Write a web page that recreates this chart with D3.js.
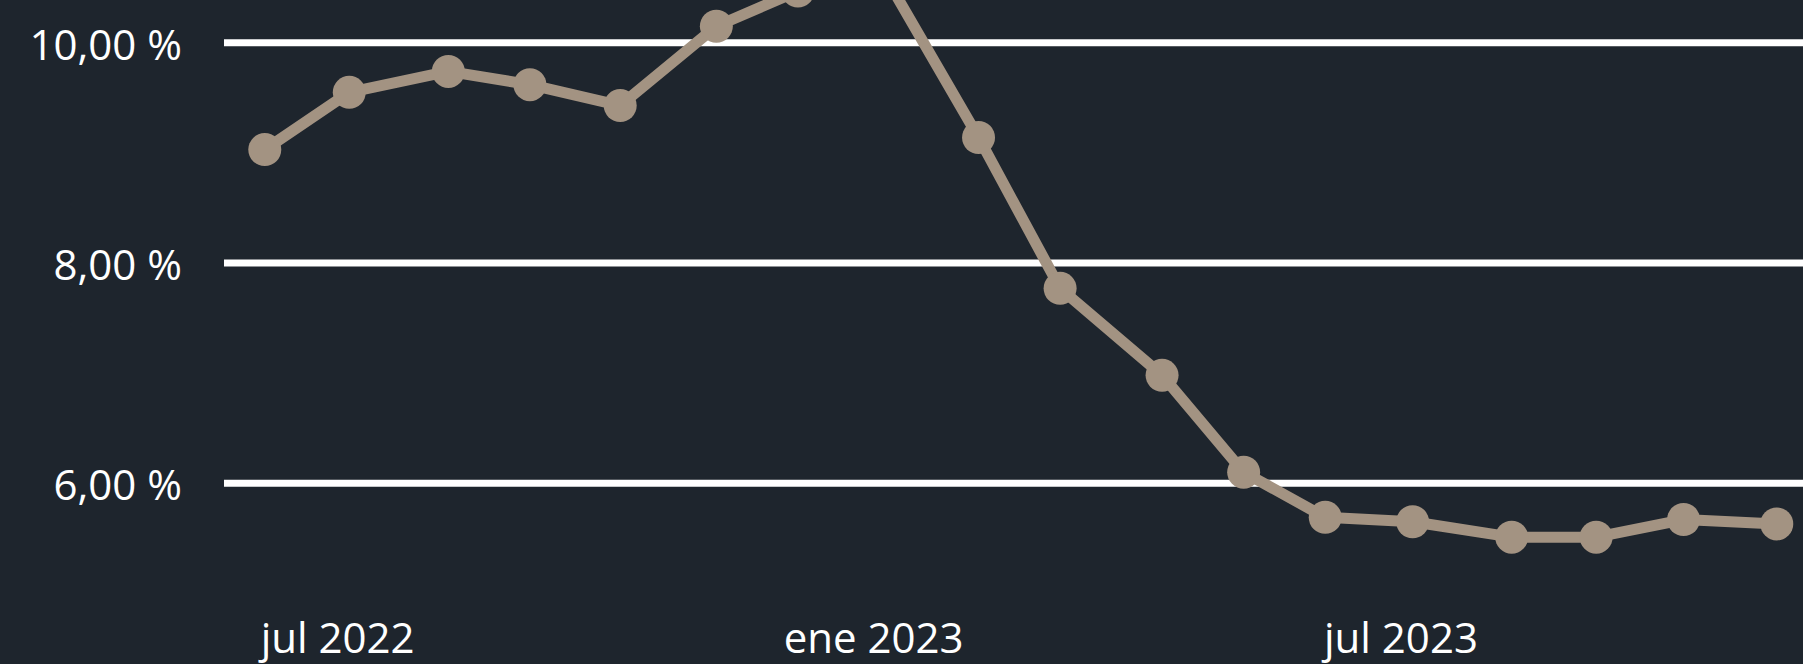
<!DOCTYPE html>
<html lang="es">
  <head>
    <meta charset="utf-8">
    <title>Serie mensual</title>
    <style type="text/css">
html, body {
  margin: 0;
  padding: 0;
  background: #1e252d;
  overflow: hidden;
}
text {
  font-family: "Open Sans", sans-serif;
  fill: #ffffff;
}
    </style>
  </head>

  <body>
    <div id="chart"></div>

    <script src="https://cdn.jsdelivr.net/npm/d3@7"></script>
    <script>
      // fechas y valores
      var fechas = ["2022-06-06", "2022-07-05", "2022-08-08", "2022-09-05", "2022-10-06", "2022-11-08",
                    "2022-12-06", "2023-01-05", "2023-02-06", "2023-03-06", "2023-04-10", "2023-05-08",
                    "2023-06-05", "2023-07-05", "2023-08-08", "2023-09-06", "2023-10-06", "2023-11-07"];
      var valores = [9.03, 9.55, 9.74, 9.62, 9.43, 10.15,
                     10.47, 10.60, 9.14, 7.77, 6.98, 6.10,
                     5.69, 5.65, 5.51, 5.51, 5.67, 5.63];
      var ticksY = [6, 8, 10];
      var ticksX = ["2022-07-01", "2023-01-01", "2023-07-01"];
      var etiquetasX = ["jul 2022", "ene 2023", "jul 2023"];
      var dominioX = ["2022-05-23", "2023-11-16"];

      var parse = d3.timeParse("%Y-%m-%d");

      var width = 1803, height = 664;
      var plot = {left: 224, right: 1803};

      var svg = d3.select("#chart").append("svg")
          .attr("width", width)
          .attr("height", height);

      svg.append("rect")
          .attr("width", width)
          .attr("height", height)
          .attr("fill", "#1e252d");

      var x = d3.scaleTime()
          .domain(dominioX.map(parse))
          .range([plot.left, plot.right]);

      var y = d3.scaleLinear()
          .domain([6, 10])
          .range([483.2, 42.8]);

      var data = fechas.map(function(f, i) {
        return {fecha: parse(f), valor: valores[i]};
      });

      // líneas de cuadrícula
      svg.append("g").selectAll("line")
        .data(ticksY)
        .enter().append("line")
          .attr("x1", plot.left)
          .attr("x2", plot.right)
          .attr("y1", function(d) { return y(d); })
          .attr("y2", function(d) { return y(d); })
          .attr("stroke", "#ffffff")
          .attr("stroke-width", 7);

      // etiquetas eje Y
      var fmt = function(d) { return d3.format(".2f")(d).replace(".", ",") + " %"; };
      svg.append("g").selectAll("text")
        .data(ticksY)
        .enter().append("text")
          .attr("x", 182)
          .attr("y", function(d) { return y(d); })
          .attr("dy", 17)
          .attr("text-anchor", "end")
          .style("font-size", "42px")
          .text(fmt);

      // etiquetas eje X
      svg.append("g").selectAll("text")
        .data(ticksX)
        .enter().append("text")
          .attr("x", function(d) { return x(parse(d)); })
          .attr("y", 653)
          .attr("text-anchor", "middle")
          .style("font-size", "42px")
          .text(function(d, i) { return etiquetasX[i]; });

      var color = "#a39382";

      var line = d3.line()
          .x(function(d) { return x(d.fecha); })
          .y(function(d) { return y(d.valor); });

      svg.append("path")
          .datum(data)
          .attr("d", line)
          .attr("fill", "none")
          .attr("stroke", color)
          .attr("stroke-width", 11)
          .attr("stroke-linejoin", "round")
          .attr("stroke-linecap", "round");

      svg.append("g").selectAll("circle")
        .data(data)
        .enter().append("circle")
          .attr("cx", function(d) { return x(d.fecha); })
          .attr("cy", function(d) { return y(d.valor); })
          .attr("r", 16.5)
          .attr("fill", color);
    </script>
  </body>
</html>
